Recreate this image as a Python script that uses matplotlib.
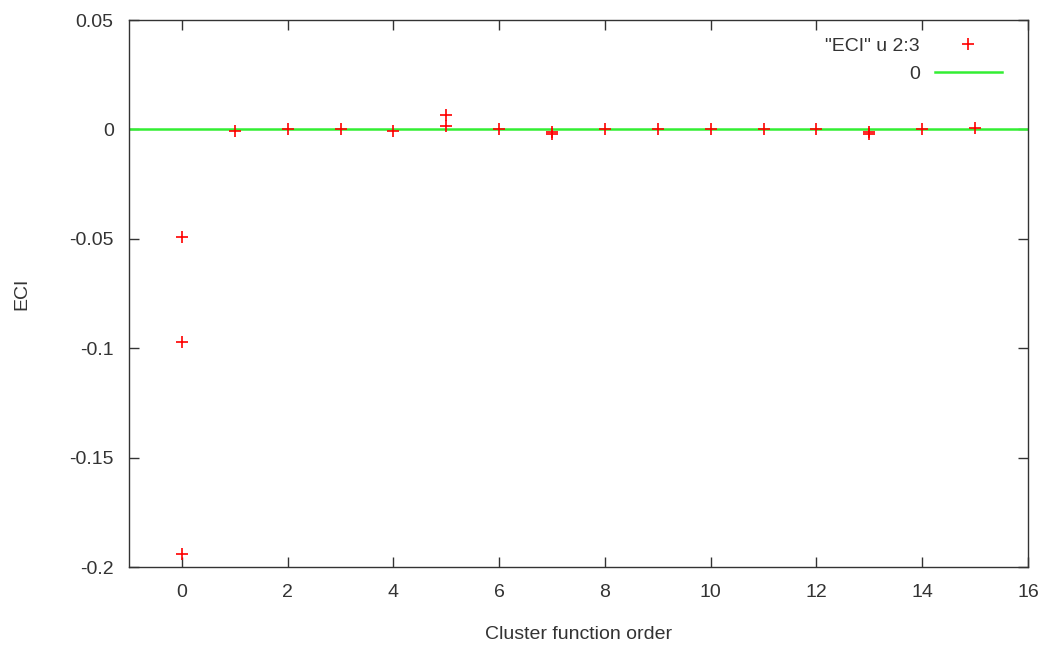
import matplotlib
matplotlib.use("Agg")
import matplotlib.pyplot as plt

# cluster function order vs effective cluster interaction
orders = [0, 0, 0, 1, 2, 3, 4, 5, 5, 6, 7, 7, 8, 9, 10, 11, 12, 13, 13, 14, 15]
eci = [-0.049, -0.097, -0.194, -0.0005, 0.0, 0.0, -0.0005, 0.0065, 0.0018, 0.0,
       -0.001, -0.0023, 0.0, 0.0, 0.0, 0.0, 0.0, -0.001, -0.0023, 0.0, 0.0008]

x_range = [-1, 16]
y_range = [-0.2, 0.05]
x_ticks = [0, 2, 4, 6, 8, 10, 12, 14, 16]
y_ticks = [-0.2, -0.15, -0.1, -0.05, 0, 0.05]
y_ticklabels = ["-0.2", "-0.15", "-0.1", "-0.05", "0", "0.05"]

TEXT = "#333333"
plt.rcParams["font.family"] = ["Liberation Sans", "DejaVu Sans"]

fig = plt.figure(figsize=(10.46, 6.47), dpi=100, facecolor="white")
ax = fig.add_axes([0.1233, 0.1236, 0.9828 - 0.1233, 0.969 - 0.1236])

ax.plot(orders, eci, linestyle="none", marker="+", markersize=9,
        markeredgewidth=1.2, color="#ff0000", label='"ECI" u 2:3', zorder=3)
ax.axhline(0, color="#33ee33", linewidth=1.8, label="0", zorder=2)

ax.set_xlim(*x_range)
ax.set_ylim(*y_range)
ax.set_xticks(x_ticks)
ax.set_yticks(y_ticks)
ax.set_yticklabels(y_ticklabels)

ax.tick_params(direction="in", length=7, width=1, top=True, right=True,
               labelsize=14, colors=TEXT)
ax.tick_params(axis="y", pad=11)
ax.tick_params(axis="x", pad=12)
for s in ax.spines.values():
    s.set_color(TEXT)
    s.set_linewidth(1)

ax.set_xlabel("Cluster function order", fontsize=14, color=TEXT, labelpad=18)
ax.set_ylabel("ECI", fontsize=14, color=TEXT, labelpad=28)

ax.legend(loc="upper right", bbox_to_anchor=(0.99, 1.0), frameon=False,
          markerfirst=False, fontsize=14, handlelength=3.4, handletextpad=0.8,
          labelspacing=0.5, labelcolor=TEXT)

fig.savefig("out.png", dpi=100, facecolor="white")
